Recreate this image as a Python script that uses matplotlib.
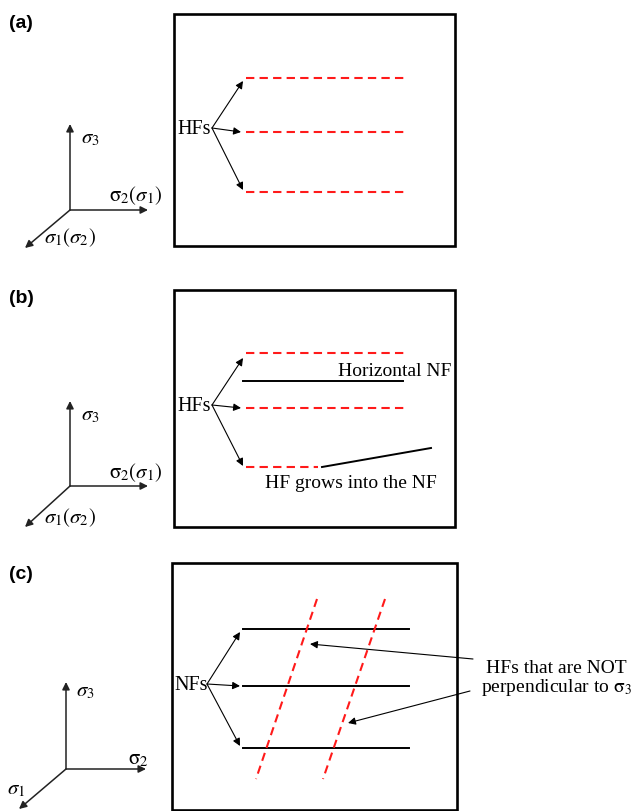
import matplotlib
matplotlib.use('Agg')
from matplotlib import pyplot as plt
from matplotlib.patches import Rectangle

plt.rcParams['mathtext.fontset'] = 'stix'
SERIF = 'Liberation Serif'

# panel frames (left, top, right, bottom) in figure pixels
boxes = {'a': (174, 15, 455, 247), 'b': (174, 291, 455, 528), 'c': (172, 564, 457, 811)}
panel_labels = {'a': (9, 24), 'b': (9, 299), 'c': (9, 575)}

# stress triads: origin, up tip, right tip, down-left tip
triads = {
    'a': [(70, 211), (70, 125), (148, 211), (25, 249)],
    'b': [(70, 487), (70, 402), (148, 487), (25, 528)],
    'c': [(66, 770), (66, 683), (146, 770), (19, 810)],
}
triad_labels = {
    'a': [(81, 138, r'$\sigma_3$'), (109, 196, r'$\mathrm{\sigma}_2(\sigma_1)$'), (44, 238, r'$\sigma_1(\sigma_2)$')],
    'b': [(81, 415, r'$\sigma_3$'), (109, 473, r'$\mathrm{\sigma}_2(\sigma_1)$'), (44, 518, r'$\sigma_1(\sigma_2)$')],
    'c': [(76, 691, r'$\sigma_3$'), (128, 759, r'$\mathrm{\sigma}_2$'), (7, 789, r'$\sigma_1$')],
}

# hydraulic fractures (red dashed) and natural fractures (black)
hf_a_y = [79, 133, 193]
hf_a_x = (246, 407)
hf_b_y = [354, 409, 468]
hf_b_xend = [405, 405, 318]
nf_b = [((243, 382), (403, 382)), ((322, 468), (431, 449))]
nf_c_y = [630, 687, 749]
nf_c_x = (243, 409)
hf_c = [((317, 600), (256, 780)), ((385, 600), (323, 780))]

# "HFs"/"NFs" labels and their fan of arrows
fan = {
    'a': ('HFs', (177, 130), (212, 129), [(243, 82), (241, 133), (243, 191)]),
    'b': ('HFs', (177, 407), (212, 406), [(243, 359), (241, 409), (243, 467)]),
    'c': ('NFs', (174, 686), (207, 685), [(240, 633), (240, 687), (240, 747)]),
}
note_c = ((556, 679), [((473, 660), (310, 645)), ((470, 692), (348, 724))])

fig = plt.figure(figsize=(6.33, 8.12), dpi=100)
ax = fig.add_axes([0, 0, 1, 1])
ax.set_xlim(0, 633)
ax.set_ylim(812, 0)
ax.axis('off')

arrow_thin = dict(arrowstyle='-|>', color='k', lw=0.8, mutation_scale=11, shrinkA=0, shrinkB=0)
arrow_triad = dict(arrowstyle='-|>', color='#222222', lw=1.1, mutation_scale=11, shrinkA=0, shrinkB=0)
red = dict(color='#ff1a1a', lw=1.5, linestyle=(0, (4, 2.5)))

for key, (l, t, r, b) in boxes.items():
    ax.add_patch(Rectangle((l, t), r - l, b - t, fill=False, ec='k', lw=1.9))
    x, y = panel_labels[key]
    ax.text(x, y, '(%s)' % key, fontsize=14, fontweight='bold', family='Liberation Sans', va='center')
    o, up, rt, dl = triads[key]
    for tip in (up, rt, dl):
        ax.annotate('', xy=tip, xytext=o, arrowprops=arrow_triad)
    for tx, ty, s in triad_labels[key]:
        ax.text(tx, ty, s, fontsize=15, va='center', ha='left')
    name, pos, start, tips = fan[key]
    ax.text(pos[0], pos[1], name, fontsize=14.5, family=SERIF, va='center', ha='left')
    for tip in tips:
        ax.annotate('', xy=tip, xytext=start, arrowprops=arrow_thin)

for y in hf_a_y:
    ax.plot(hf_a_x, [y, y], **red)

for y, xe in zip(hf_b_y, hf_b_xend):
    ax.plot([246, xe], [y, y], **red)
for p0, p1 in nf_b:
    ax.plot([p0[0], p1[0]], [p0[1], p1[1]], color='k', lw=1.4)
ax.text(338, 372, 'Horizontal NF', fontsize=14, family=SERIF, va='center', ha='left')
ax.text(265, 484, 'HF grows into the NF', fontsize=14, family=SERIF, va='center', ha='left')

for y in nf_c_y:
    ax.plot(nf_c_x, [y, y], color='k', lw=1.4)
for p0, p1 in hf_c:
    ax.plot([p0[0], p1[0]], [p0[1], p1[1]], **red)
(nx, ny), note_arrows = note_c
ax.text(nx, ny, 'HFs that are NOT\nperpendicular to $\\mathrm{\\sigma}_3$', fontsize=14,
        family=SERIF, va='center', ha='center', linespacing=1.05)
for start, tip in note_arrows:
    ax.annotate('', xy=tip, xytext=start, arrowprops=arrow_thin)

fig.savefig('out.png', dpi=100)
